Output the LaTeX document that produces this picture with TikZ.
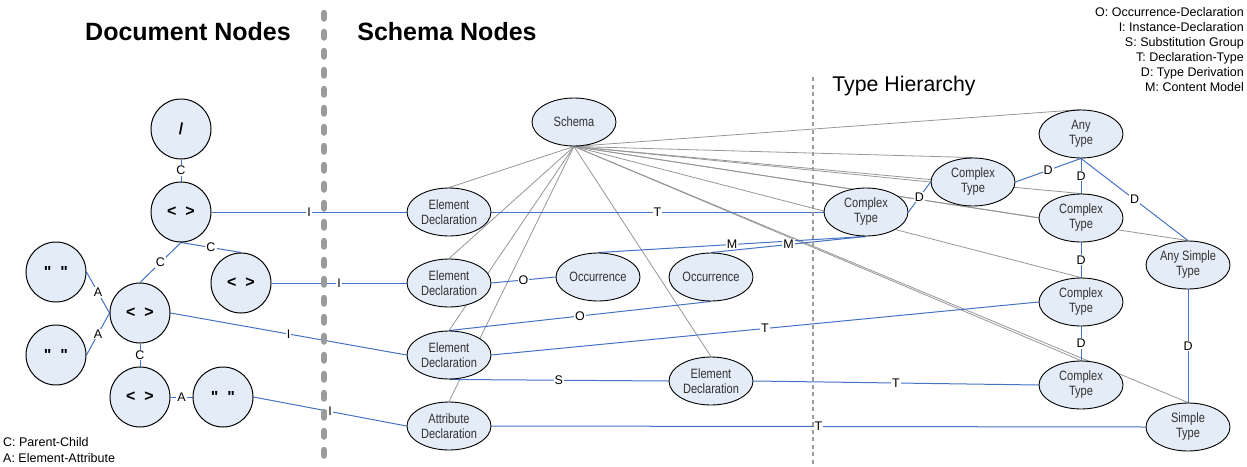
\documentclass[tikz,border=0pt]{standalone}
\usepackage{fontspec}
\setmainfont{Liberation Sans}
\newfontfamily\narrowfont[FakeStretch=0.82]{Liberation Sans}
\newfontfamily\docfont{Liberation Sans}
\usetikzlibrary{shapes.geometric,backgrounds}
\definecolor{nodefill}{RGB}{228,236,247}
\definecolor{relblue}{RGB}{68,114,196}
\definecolor{ownsgray}{RGB}{150,150,150}
\definecolor{sepgray}{RGB}{155,155,155}
\definecolor{nodetext}{RGB}{50,50,50}

\begin{document}
\begin{tikzpicture}[x=1pt,y=-1pt,
	docnode/.style={circle,draw,line width=1pt,fill=nodefill,minimum size=60pt,inner sep=0pt,font=\docfont\fontsize{16}{18}\selectfont\bfseries},
	schemanode/.style={ellipse,draw,line width=0.9pt,fill=nodefill,minimum width=84pt,minimum height=48pt,inner sep=0pt,align=center,text=nodetext,font=\narrowfont\fontsize{13.5}{15}\selectfont},
	rel/.style={draw=relblue,line width=1pt},
	owns/.style={draw=ownsgray,line width=0.8pt},
	lbl/.style={fill=white,inner sep=1pt,font=\fontsize{12.5}{14}\selectfont},
	title/.style={font=\fontsize{25}{28}\selectfont\bfseries}]
			%%%%% START %%%%%
			\useasboundingbox (0,0) rectangle (1247,466);
			
			\node[title] (doctitle) at (188,32) {Document Nodes};
			\node[title] (schematitle) at (447,32) {Schema Nodes};
			\node[font=\fontsize{21.3}{24}\selectfont] (typetitle) at (904,86) {Type Hierarchy};
			
			\node[anchor=north east,align=right,inner sep=0pt,font=\fontsize{12.5}{15}\selectfont] (legend) at (1244,7)
				{O: Occurrence-Declaration\\I: Instance-Declaration\\S: Substitution Group\\T: Declaration-Type\\D: Type Derivation\\M: Content Model};
			\node[anchor=north west,align=left,inner sep=0pt,font=\fontsize{12.5}{16}\selectfont] (doclegend) at (3,437)
				{C: Parent-Child\\A: Element-Attribute};
			
			% document nodes
			\node[docnode] (root) at (181,129) {/};
			\node[docnode] (el1) at (181,212) {<~~>};
			\node[docnode] (el2) at (241,283) {<~~>};
			\node[docnode] (el3) at (140,313) {<~~>};
			\node[docnode] (el4) at (140,397) {<~~>};
			\node[docnode] (at1) at (56,272) {"\hspace{9pt}"};
			\node[docnode] (at2) at (56,355) {"\hspace{9pt}"};
			\node[docnode] (at3) at (223,397) {"\hspace{9pt}"};
			
			% schema nodes
			\node[schemanode] (schema) at (574,122) {Schema};
			\node[schemanode] (ed1) at (449,212) {Element\\Declaration};
			\node[schemanode] (ed2) at (449,283) {Element\\Declaration};
			\node[schemanode] (ed3) at (449,355) {Element\\Declaration};
			\node[schemanode] (ad) at (449,426) {Attribute\\Declaration};
			\node[schemanode] (occ1) at (598,277) {Occurrence};
			\node[schemanode] (occ2) at (711,277) {Occurrence};
			\node[schemanode] (ed5) at (711,381) {Element\\Declaration};
			
			% type hierarchy
			\node[schemanode] (ct1) at (866,212) {Complex\\Type};
			\node[schemanode] (ct2) at (973,182) {Complex\\Type};
			\node[schemanode] (anyt) at (1081,134) {Any\\Type};
			\node[schemanode] (ct3) at (1081,218) {Complex\\Type};
			\node[schemanode] (ct4) at (1081,302) {Complex\\Type};
			\node[schemanode] (ct5) at (1081,385) {Complex\\Type};
			\node[schemanode] (anys) at (1188,265) {Any Simple\\Type};
			\node[schemanode] (simple) at (1188,427) {Simple\\Type};
			
			\begin{pgfonlayer}{background}
			\foreach \t in {ed1.north,ed2.north,ed3.north,ad.north,ed5.north,anyt.north,ct2.north,ct2.west,ct3.north,ct3.west,anys.north,ct4.north,ct5.north,simple.north}
				\draw[owns] (schema.south) -- (\t);
			
			\draw[rel] (root) -- node[lbl]{C} (el1);
			\draw[rel] (el1.south) -- node[lbl]{C} (el2.north);
			\draw[rel] (el1.south) -- node[lbl]{C} (el3.north);
			\draw[rel] (at1.east) -- node[lbl]{A} (el3.west);
			\draw[rel] (at2.east) -- node[lbl]{A} (el3.west);
			\draw[rel] (el3) -- node[lbl]{C} (el4);
			\draw[rel] (el4) -- node[lbl]{A} (at3);
			
			\draw[rel] (el1.east) -- node[lbl]{I} (ed1.west);
			\draw[rel] (el2.east) -- node[lbl]{I} (ed2.west);
			\draw[rel] (el3.east) -- node[lbl]{I} (ed3.west);
			\draw[rel] (at3.east) -- node[lbl]{I} (ad.west);
			
			\draw[rel] (ed1.east) -- node[lbl]{T} (ct1.west);
			\draw[rel] (ed2.east) -- node[lbl]{O} (occ1.west);
			\draw[rel] (ed3.north) -- node[lbl]{O} (occ2.south);
			\draw[rel] (ed3.east) -- node[lbl]{T} (ct4.west);
			\draw[rel] (ed3.south) -- node[lbl]{S} (ed5.west);
			\draw[rel] (ed5.east) -- node[lbl]{T} (ct5.west);
			\draw[rel] (ad.east) -- node[lbl]{T} (simple.west);
			\draw[rel] (occ1.north) -- node[lbl]{M} (ct1.south);
			\draw[rel] (occ2.north) -- node[lbl]{M} (ct1.south);
			
			\draw[rel] (ct1.east) -- node[lbl]{D} (ct2.west);
			\draw[rel] (ct2.east) -- node[lbl]{D} (anyt.south);
			\draw[rel] (anyt.south) -- node[lbl]{D} (ct3.north);
			\draw[rel] (anyt.south) -- node[lbl]{D} (anys.north);
			\draw[rel] (ct3) -- node[lbl]{D} (ct4);
			\draw[rel] (ct4) -- node[lbl]{D} (ct5);
			\draw[rel] (anys) -- node[lbl]{D} (simple);
			\end{pgfonlayer}
			
			% separators
			\draw[sepgray,line width=6.5pt,line cap=round,dash pattern=on 5.5pt off 13.5pt] (324,13) -- (324,466);
			\draw[sepgray,line width=2pt,dash pattern=on 4pt off 3.5pt] (813,77) -- (813,466);
			%%%%% END %%%%%
\end{tikzpicture}
\end{document}
